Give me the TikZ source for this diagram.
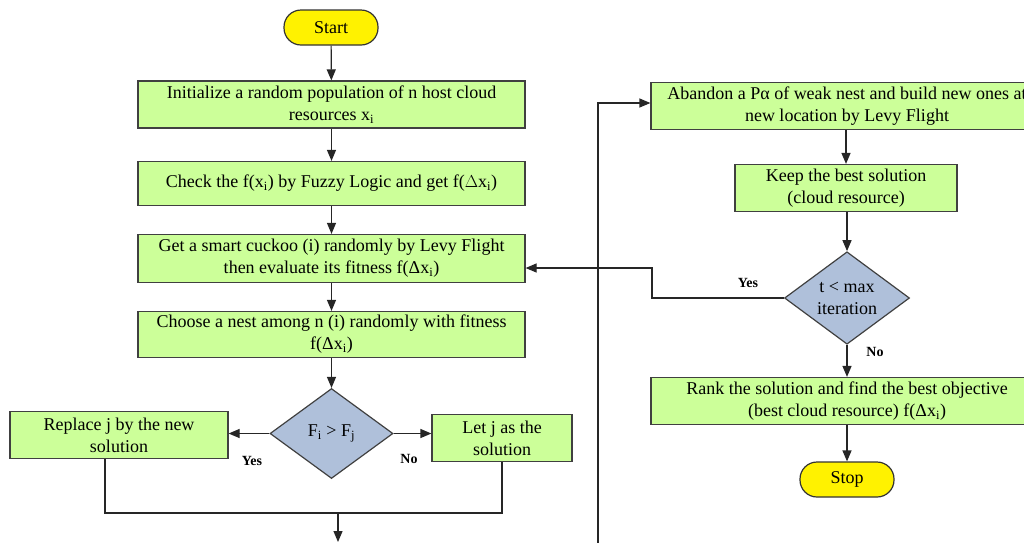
\documentclass[tikz,border=0pt]{standalone}
\usepackage{fontspec}
\setmainfont{Liberation Serif}
\usetikzlibrary{shapes.geometric,arrows.meta,calc}
\begin{document}
\begin{tikzpicture}[x=1pt,y=-1pt,
  font=\fontsize{18}{22}\selectfont,
  procbox/.style={draw=black!75,line width=1.2pt,fill=green1,rectangle,inner sep=0pt,align=center},
  termbox/.style={draw=black!80,line width=1.2pt,fill=yellow,rectangle,rounded corners=17pt,minimum width=94pt,minimum height=35pt,inner sep=0pt},
  decbox/.style={draw=black!75,line width=1.2pt,fill=blue1,diamond,inner sep=0pt,align=center},
  conn/.style={draw=black!85,line width=1.2pt},
  arr/.style={conn,-{Triangle[length=11pt,width=9pt]}},
  lbl/.style={font=\fontsize{14}{16}\selectfont\bfseries}]
\definecolor{green1}{HTML}{CCFF99}
\definecolor{blue1}{HTML}{AFC0DA}
\useasboundingbox (0,0) rectangle (1024,542);
% left column
\node[termbox] (start) at (331,27.5) {Start};
\node[procbox,minimum width=387pt,minimum height=47pt] (init) at (331.5,104.5) {Initialize a random population of n host cloud\\resources x\textsubscript{i}};
\node[procbox,minimum width=387pt,minimum height=44pt] (check) at (331.5,183.5) {Check the f(x\textsubscript{i}) by Fuzzy Logic and get f($\Delta$x\textsubscript{i})};
\node[procbox,minimum width=387pt,minimum height=48pt] (get) at (331.5,258.5) {Get a smart cuckoo (i) randomly by Levy Flight\\then evaluate its fitness f(Δx\textsubscript{i})};
\node[procbox,minimum width=387pt,minimum height=46pt] (choose) at (331.5,334.5) {Choose a nest among n (i) randomly with fitness\\f(Δx\textsubscript{i})};
\node[decbox,minimum width=123pt,minimum height=90pt] (d1) at (331.5,433.5) {F\textsubscript{i} \textgreater{} F\textsubscript{j}};
\node[procbox,minimum width=218pt,minimum height=47pt] (replace) at (119,435) {Replace j by the new\\solution};
\node[procbox,minimum width=140pt,minimum height=47pt] (letj) at (502,438) {Let j as the\\solution};
\node[lbl] (yes1) at (252,461) {Yes};
\node[lbl] (no1) at (409,459) {No};
\coordinate (jl) at (105,513);
\coordinate (jr) at (502,513);
\coordinate (jm) at (338,513);
\coordinate (jmend) at (338,542);
% right column
\coordinate (loopb) at (598,545);
\coordinate (loopt) at (598,103);
\node[procbox,minimum width=392pt,minimum height=47pt] (abandon) at (847,106) {Abandon a Pα of weak nest and build new ones at\\new location by Levy Flight};
\node[procbox,minimum width=222pt,minimum height=47pt] (keep) at (846,188) {Keep the best solution\\(cloud resource)};
\node[decbox,minimum width=125pt,minimum height=92pt] (d2) at (847,298) {t \textless{} max\\iteration};
\node[lbl] (yes2) at (748,283) {Yes};
\node[lbl] (no2) at (875,352) {No};
\coordinate (ya) at (652,298);
\coordinate (yb) at (652,268);
\node[procbox,minimum width=392pt,minimum height=47pt] (rank) at (847,401) {Rank the solution and find the best objective\\(best cloud resource) f(Δx\textsubscript{i})};
\node[termbox] (stop) at (847,479.5) {Stop};
% connectors
\draw[arr] (start) -- (init);
\draw[arr] (init) -- (check);
\draw[arr] (check) -- (get);
\draw[arr] (get) -- (choose);
\draw[arr] (choose) -- (d1);
\draw[arr] (d1.west) -- (d1.west -| replace.east);
\draw[arr] (d1.east) -- (d1.east -| letj.west);
\draw[conn] (replace.south -| jl) -- (jl) -- (jr) -- (letj.south);
\draw[arr] (jm) -- (jmend);
\draw[arr] (loopb) -- (loopt) -- (abandon.west |- loopt);
\draw[arr] (abandon.south -| keep.north) -- (keep.north);
\draw[arr] (keep.south -| d2.north) -- (d2.north);
\draw[arr] (d2.west) -- (ya) -- (yb) -- (get.east |- yb);
\draw[arr] (d2.south) -- (rank.north -| d2.south);
\draw[arr] (rank) -- (stop);
\end{tikzpicture}
\end{document}
